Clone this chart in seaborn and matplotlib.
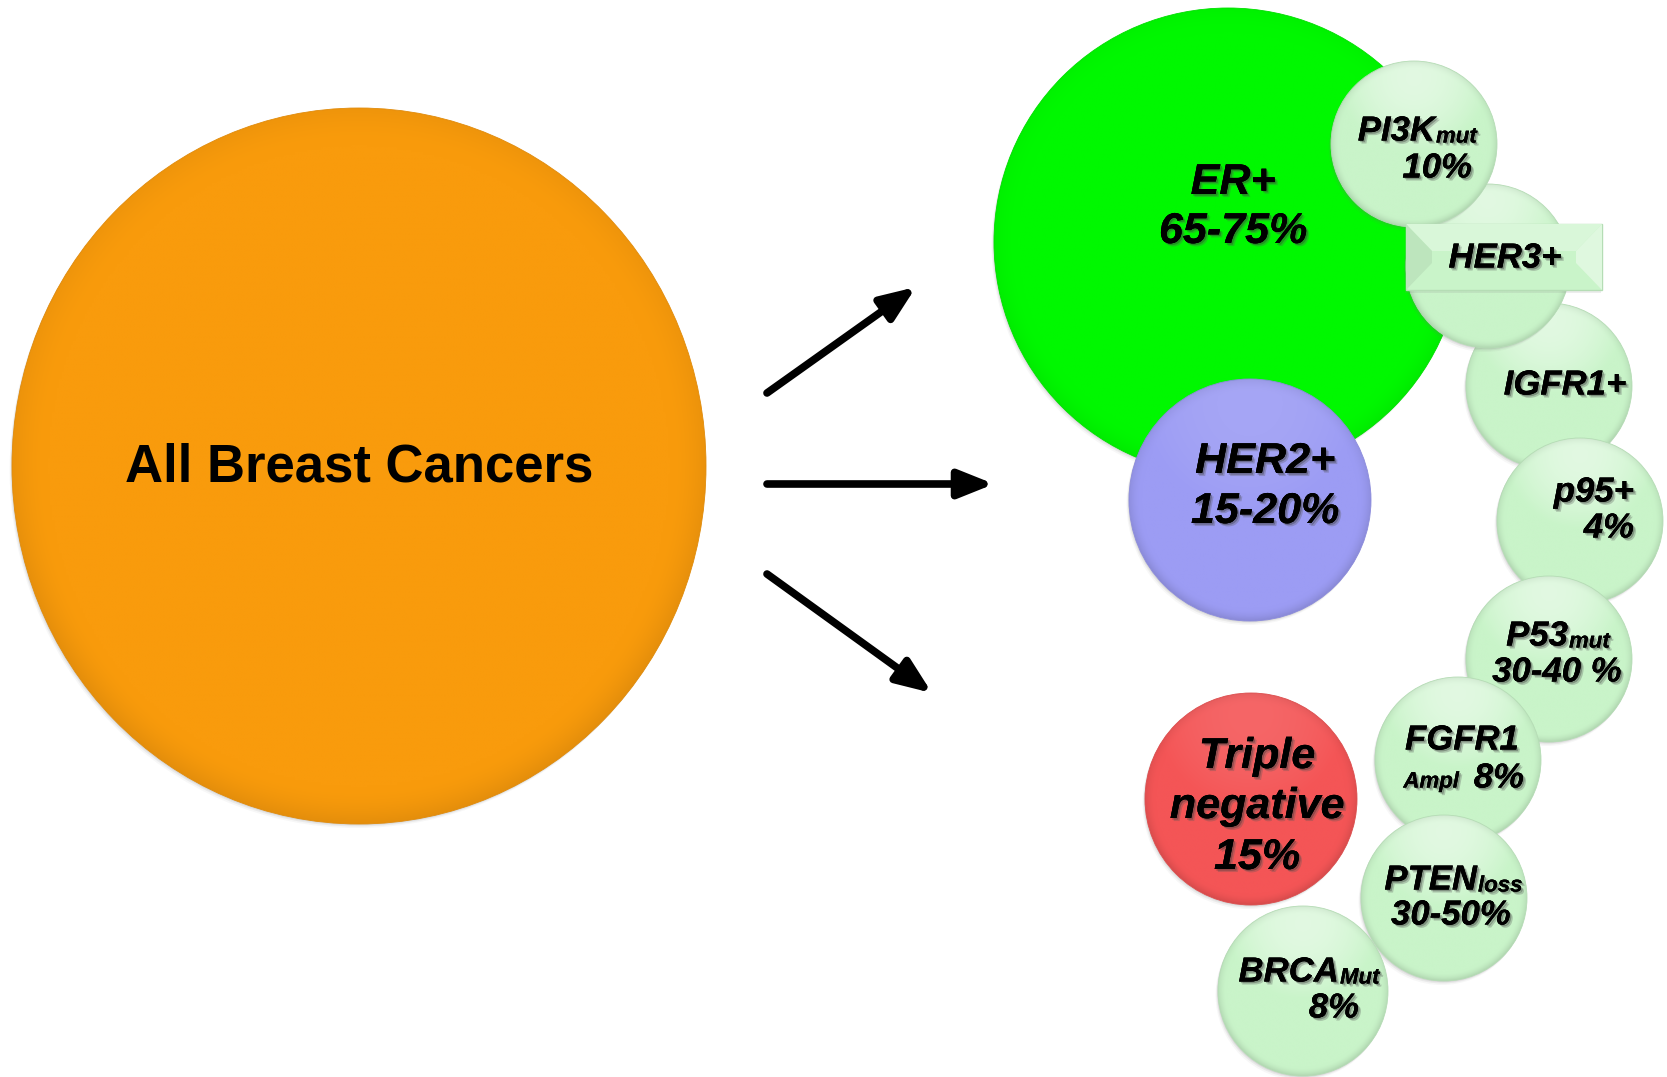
import numpy as np
import matplotlib
matplotlib.use("Agg")
import matplotlib.pyplot as plt
import matplotlib.patheffects as pe
from matplotlib.patches import Ellipse, Polygon
import seaborn as sns

# ---- content -------------------------------------------------------------
root_label = "All Breast Cancers"

subtypes = ["ER+", "HER2+", "Triple\nnegative"]
subtype_freq = ["65-75%", "15-20%", "15%"]

markers = ["PI3K", "HER3+", "IGFR1+", "p95+", "P53", "FGFR1", "PTEN", "BRCA"]
marker_sub = ["mut", "", "", "", "mut", "Ampl", "loss", "Mut"]
marker_freq = ["10%", "", "", "4%", "30-40 %", "8%", "30-50%", "8%"]

# ---- layout (pixel space, y pointing down) --------------------------------
root_xy, root_rx, root_ry = (359, 466), 347, 358
subtype_xy = [(1228, 242), (1250, 500), (1251, 799)]
subtype_r = [234, 121, 106]
marker_xy = [(1414, 144), (1488, 266), (1549, 386), (1580, 521),
             (1549, 659), (1458, 760), (1444, 898), (1303, 991)]
marker_r = [83, 82, 83, 83, 83, 83, 83, 85]

ORANGE = "#F99B0C"
GREEN = "#00F800"
BLUE = "#9C9CF4"
RED = "#F45556"
PALE = "#C9F4C9"

sns.set_theme(style="white")
plt.rcParams["font.family"] = ["Liberation Sans", "DejaVu Sans"]

W, H = 1667, 1077
fig = plt.figure(figsize=(W / 100, H / 100), dpi=100)
ax = fig.add_axes([0, 0, 1, 1])
ax.set_xlim(0, W)
ax.set_ylim(H, 0)
ax.set_aspect("equal")
ax.axis("off")

text_fx = [pe.withSimplePatchShadow(offset=(2.2, -2.2), shadow_rgbFace="#555555", alpha=0.3),
           pe.withSimplePatchShadow(offset=(1.2, -1.2), shadow_rgbFace="#333333", alpha=0.35),
           pe.Normal()]


def shaded_disc(xy, rx, color, z, ry=None, top_light=0.25, rim_dark=0.15, shadow=True):
    ry = rx if ry is None else ry
    cx, cy = xy
    if shadow:
        for k, a in ((4, 0.06), (2.5, 0.10), (1.2, 0.14)):
            ax.add_patch(Ellipse((cx - k * 0.6, cy + k), 2 * rx, 2 * ry,
                                 facecolor="#777777", edgecolor="none",
                                 alpha=a, zorder=z - 0.02))
    n = 300
    u, v = np.meshgrid(np.linspace(-1, 1, n), np.linspace(-1, 1, n))
    rho = np.sqrt(u ** 2 + v ** 2)
    base = np.array(matplotlib.colors.to_rgb(color))
    img = np.ones((n, n, 3)) * base
    hl = np.clip(1 - (u ** 2 + (v + 0.8) ** 2) / 0.8, 0, 1) * top_light
    img = img + (1 - img) * hl[..., None]
    rim = np.clip((rho - 0.9) / 0.1, 0, 1) ** 1.8
    shade = rim * rim_dark * (0.5 + 0.5 * np.clip(v + 0.4, 0, 1))
    img = img * (1 - shade[..., None])
    img = np.clip(img, 0, 1)
    clip = Ellipse((cx, cy), 2 * rx, 2 * ry, transform=ax.transData)
    im = ax.imshow(img, extent=(cx - rx, cx + rx, cy + ry, cy - ry),
                   origin="upper", zorder=z, interpolation="bilinear")
    im.set_clip_path(clip)
    ax.add_patch(Ellipse((cx, cy), 2 * rx, 2 * ry, facecolor="none",
                         edgecolor=tuple(base * 0.9), lw=0.6, zorder=z + 0.01))


def label(x, y, s, size, ha="center", z=50):
    ax.text(x, y, s, ha=ha, va="center", fontsize=size, fontweight="bold",
            fontstyle="italic", color="black",
            path_effects=text_fx, zorder=z, linespacing=1.05)


# ---- root circle -----------------------------------------------------------
shaded_disc(root_xy, root_rx, ORANGE, 2, ry=root_ry, top_light=0.0, rim_dark=0.08)
ax.text(root_xy[0], root_xy[1] + 2, root_label, ha="center", va="center",
        fontsize=38, fontweight="bold", color="black", zorder=50)

# ---- arrows ----------------------------------------------------------------
arrow_tail = [(767, 393), (767, 484), (767, 574)]
arrow_head = [(916, 287), (994, 484), (932, 693)]
for t, h in zip(arrow_tail, arrow_head):
    ax.annotate("", xy=h, xytext=t,
                arrowprops=dict(arrowstyle="-|>,head_length=0.7,head_width=0.28",
                                lw=5.5, color="black", shrinkA=0, shrinkB=0,
                                mutation_scale=30),
                zorder=5)

# ---- subtype circles -------------------------------------------------------
shaded_disc(subtype_xy[0], subtype_r[0], GREEN, 3, top_light=0.0, rim_dark=0.05)

# chain of marker circles (drawn so each overlaps the previous one)
order = [2, 1, 0, 3, 4, 5, 6, 7]
for k, i in enumerate(order):
    shaded_disc(marker_xy[i], marker_r[i], PALE, 10 + k, top_light=0.45, rim_dark=0.12)

shaded_disc(subtype_xy[1], subtype_r[1], BLUE, 25, top_light=0.1, rim_dark=0.12)
shaded_disc(subtype_xy[2], subtype_r[2], RED, 25, top_light=0.1, rim_dark=0.12)

# ER+
label(1233, 183, subtypes[0], 31)
label(1233, 232, subtype_freq[0], 31)
# HER2+
label(1265, 462, subtypes[1], 31)
label(1265, 512, subtype_freq[1], 31)
# Triple negative
tn = subtypes[2].split("\n")
label(1257, 757, tn[0], 31)
label(1257, 807, tn[1], 31)
label(1257, 858, subtype_freq[2], 31)

# ---- HER3 banner (bevelled rectangle) ---------------------------------------
bx0, bx1, by0, by1, d = 1406, 1602, 224, 290, 26
mx = (by0 + by1) / 2
pale = np.array(matplotlib.colors.to_rgb(PALE))
ax.add_patch(Polygon([(bx0 - 1, by0 + 3), (bx1 - 1, by0 + 3), (bx1 - 1, by1 + 3), (bx0 - 1, by1 + 3)],
                     closed=True, facecolor="#888888", edgecolor="none", alpha=0.15, zorder=29.9))
ax.add_patch(Polygon([(bx0, by0), (bx1, by0), (bx1, by1), (bx0, by1)],
                     closed=True, facecolor=PALE, edgecolor="#B5DDB5", lw=1, zorder=30))
ax.add_patch(Polygon([(bx0, by0), (bx0 + d, mx - 6), (bx0 + d, mx + 6), (bx0, by1)],
                     closed=True, facecolor=tuple(pale * 0.94), edgecolor="none", zorder=30.5))
ax.add_patch(Polygon([(bx1, by0), (bx1 - d, mx - 6), (bx1 - d, mx + 6), (bx1, by1)],
                     closed=True, facecolor=tuple(pale + (1 - pale) * 0.4), edgecolor="none", zorder=30.5))
ax.add_patch(Polygon([(bx0, by0), (bx1, by0), (bx1 - d, mx - 6), (bx0 + d, mx - 6)],
                     closed=True, facecolor=tuple(pale + (1 - pale) * 0.3), edgecolor="none", zorder=30.4))

# ---- marker labels -----------------------------------------------------------
MAIN, SUB = 25, 16


def split_label(x_split, y, main, sub, z=50):
    label(x_split, y, main, MAIN, ha="right", z=z)
    label(x_split + 1, y + 6, sub, SUB, ha="left", z=z)


# PI3K mut / 10%
split_label(1435, 131, markers[0], marker_sub[0])
label(1472, 168, marker_freq[0], MAIN, ha="right")
# HER3+
label(1505, 258, markers[1], MAIN)
# IGFR1+
label(1565, 385, markers[2], MAIN)
# p95+ / 4%
label(1634, 492, markers[3], MAIN, ha="right")
label(1634, 528, marker_freq[3], MAIN, ha="right")
# P53 mut / 30-40 %
split_label(1568, 636, markers[4], marker_sub[4])
label(1557, 672, marker_freq[4], MAIN)
# FGFR1 / Ampl 8%
label(1462, 740, markers[5], MAIN)
label(1459, 782, marker_sub[5], SUB, ha="right")
label(1524, 778, marker_freq[5], MAIN, ha="right")
# PTEN loss / 30-50%
split_label(1477, 880, markers[6], marker_sub[6])
label(1451, 915, marker_freq[6], MAIN)
# BRCA Mut / 8%
split_label(1339, 972, markers[7], marker_sub[7])
label(1359, 1008, marker_freq[7], MAIN, ha="right")

fig.savefig("out.png", dpi=100, facecolor="white")
